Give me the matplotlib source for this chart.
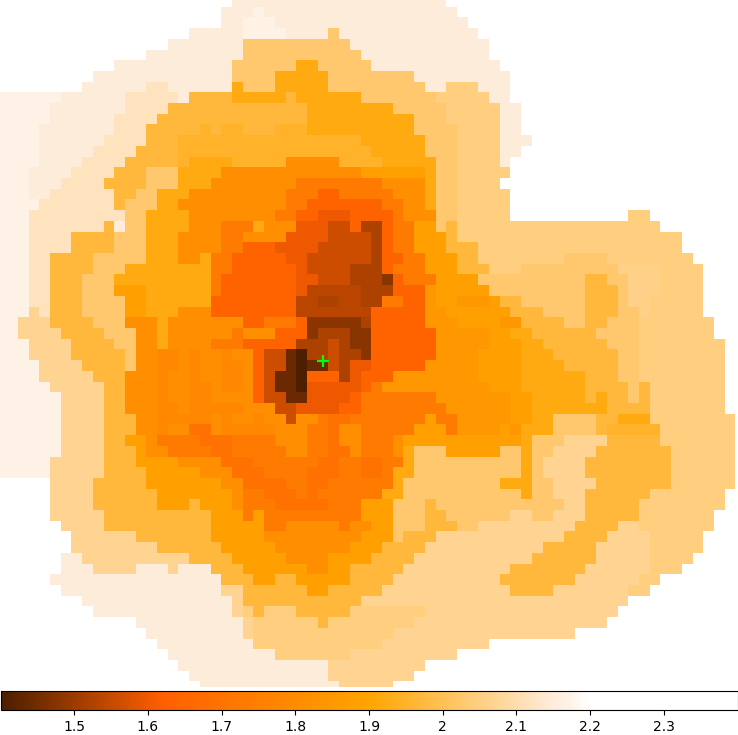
import re
import numpy as np
import matplotlib
matplotlib.use("Agg")
import matplotlib.pyplot as plt
from matplotlib.colors import LinearSegmentedColormap, Normalize

# value of each map level, read through the colour bar
LEVELS = {'w': np.nan, 'a': 2.17, 'b': 2.15, 'c': 2.12, 'd': 2.07, 'E': 2.06, 'D': 2.05, 'e': 2.03, 'f': 1.97,
          'F': 1.95, 'g': 1.92, 'h': 1.88, 'H': 1.85, 'i': 1.81, 'I': 1.785, 'j': 1.73, 'K': 1.695, 'k': 1.64,
          'l': 1.60, 'm': 1.56, 'M': 1.535, 'n': 1.52, 'o': 1.48, 'p': 1.44, 'q': 1.405}

# each row: "<first column><level>" runs
ROWS = [
 "0w 22b 42w",
 "0w 21b 24a 25b 43w",
 "0w 21b 23a 26b 44w",
 "0w 18b 23a 27b 31e 32b 45w",
 "0w 16b 23e 33b 46w",
 "0w 14b 23e 34b 46w",
 "0w 11b 22e 28g 30e 35b 47w",
 "0w 9b 22e 26g 31e 39b 48w",
 "0w 8b 14c 16b 22g 23e 26g 31e 40b 42D 45b 48w",
 "0a 6b 12c 17b 18f 22g 27f 28g 34e 41D 46b 48w",
 "0a 5b 12c 16f 29g 37e 42D 47b 49w",
 "0a 5b 11c 15f 29g 39e 42D 47b 49w",
 "0a 4b 11c 14f 19F 20f 21F 23f 26F 29g 39e 43D 47b 49w",
 "0a 4b 10c 14f 17F 34g 40e 43D 47b 50w",
 "0a 4b 9c 13f 17F 35g 40e 43D 47b 49w",
 "0a 4b 8c 12f 17F 18g 22F 27i 32F 36g 41e 43D 47b 48w",
 "0a 3b 7c 11f 14e 17g 21i 34h 40g 41e 43D 48w",
 "0a 3b 6c 10f 14e 17g 20i 28j 36i 40g 41e 43D 47w",
 "0a 3b 5c 11f 13e 15g 18i 27j 30k 32j 37i 40g 41e 43D 48w",
 "0a 4c 11f 12e 15g 17i 27j 29k 36j 38i 40g 41e 43D 48w",
 "0a 3c 12e 14g 18i 26j 28k 30l 33k 37j 38i 41e 43D 48w 59D 61w",
 "0a 3c 10f 11b 12e 14g 18i 21j 24g 25i 28l 31m 33k 34n 36k 37j 39h 41e 42f 43D 62w",
 "0a 3c 7f 11e 14g 17i 21j 23i 27l 31m 35n 36k 37j 39h 42f 43D 64w",
 "0a 3c 7f 11e 14g 17i 21j 23k 26l 30m 35n 36k 37j 39h 42f 45D 64w",
 "0a 3c 5f 9e 14g 17i 19g 20j 22k 27l 29m 35n 36k 38j 40h 43f 45D 53e 57D 65w",
 "0a 3c 5f 9e 12g 20j 22k 28l 29m 33n 36k 37j 40h 43f 46D 49e 58E 62D 66w",
 "0a 3c 5f 8e 11g 20j 21k 28l 30m 33n 36o 37k 38j 41h 45e 55f 57e 59E 62D 66w",
 "0a 3c 5f 8e 11h 14g 20j 21k 28l 29M 34n 37k 40H 41h 46e 55f 58e 59E 62D 66w",
 "0a 3c 5f 8e 12h 14g 20k 28M 30n 32M 34n 36j 38k 40H 41h 43H 46h 47f 49e 55f 58e 59E 61D 66w",
 "0a 3d 4c 5f 8e 12h 14g 17i 20k 28M 35k 40H 42h 48f 51e 55f 58e 60E 61D 66w",
 "0a 2d 5f 9e 12i 15g 16i 23k 25j 28k 29o 34n 35k 40H 43h 47H 49f 53e 55f 57e 60D 67w",
 "0a 2d 6f 10e 13i 15g 16i 22j 23i 26k 29o 30n 33o 35k 41H 46h 48g 50f 56e 60D 67w",
 "0a 3d 7f 11e 13i 15g 16i 20j 23k 28n 31m 32n 33o 35k 41H 46h 49g 51f 57e 60D 68w",
 "0a 3d 7f 12e 13i 15I 17i 18I 19i 21I 22i 24k 25m 27p 28q 29n 31m 32n 34o 35k 41H 45h 49g 52f 58e 60D 68w",
 "0a 4d 8f 12e 13i 15I 17i 18I 19i 21I 23i 24k 25m 27p 28q 29p 31m 32n 33l 35k 40H 45h 49g 53f 58e 60D 68w",
 "0a 4d 9f 12i 15I 16i 18I 19i 21I 23i 24k 25m 26p 28q 29k 32n 33l 34k 37H 45h 49g 55f 58e 60D 68w",
 "0a 5d 10f 12i 15I 16i 18I 20i 21I 23i 24k 25m 26p 28q 29l 34k 35j 36H 46h 49g 55f 59e 60f 61D 68w",
 "0a 6d 10f 12i 15I 16i 18I 20i 24k 25m 27p 29l 33k 34j 41H 48h 50g 55f 56g 57f 59e 60f 61D 68w",
 "0a 6d 10f 12i 15I 17i 18I 23i 26m 28l 32k 34j 42H 48h 50g 57f 61D 68w",
 "0a 6d 10f 13i 15I 20i 21I 22i 24I 25i 27m 28i 30j 31K 33j 40h 41j 43H 48h 50g 52e 56f 58g 61D 69w",
 "0a 6d 10f 13i 15I 16i 18K 20i 21I 26i 29j 31K 32i 34j 39h 42j 43H 47h 48H 49g 52e 56f 57F 62D 69w",
 "0a 6d 10f 12h 14i 15j 19K 22j 26i 29j 31K 32i 34j 37i 38h 49g 50e 53d 57f 62D 69w",
 "0a 6d 10f 13h 14i 16j 20K 22j 27i 29j 31K 33i 34j 37i 38g 39e 42h 47e 49g 50e 52d 56f 63D 69w",
 "0a 5d 10f 13h 17i 21K 24j 30K 32j 34K 36j 38g 39e 49g 50e 51d 55f 63D 69w",
 "0a 5d 10f 14h 19i 22K 25j 29K 32j 34K 36j 37g 39e 49g 50e 51d 55f 63D 69w",
 "0w 5d 9f 14h 21i 23K 27j 29K 31j 37g 38e 47g 50e 52d 56f 63D 69w",
 "0w 5d 9f 15h 22i 23j 25K 28j 29K 30j 36g 38e 49g 50e 52d 55f 61D 68w",
 "0w 5d 9f 15h 18f 19h 22i 23j 26K 31j 34h 37e 40f 41e 53d 55f 60D 68w",
 "0w 5d 10f 20h 23j 24h 25j 34h 37e 40f 42e 48d 50e 52d 55f 60D 67w",
 "0w 6d 10f 20h 25j 27i 32j 33i 35h 37e 40f 43e 45d 54f 58d 60D 67w",
 "0w 7d 13f 20h 25i 34h 37e 38f 41d 53f 57d 61D 66w",
 "0w 7d 15f 21h 26i 33h 36f 40d 51f 56d 61D 66w",
 "0w 6b 8d 18f 22h 27i 31h 35f 39d 50f 56d 61D 65w",
 "0w 6b 9d 13b 16d 17b 20f 23h 29i 31h 33f 38d 48f 55d 61D 64w",
 "0w 5b 21f 24h 26f 28h 33f 37d 47f 54d 60D 62w",
 "0w 6b 21d 23f 29h 31f 36d 48f 52d 59D 61w",
 "0w 8b 22d 23f 34d 59w",
 "0w 9b 22d 23D 24f 25D 28f 33D 40d 58w",
 "0w 13b 23d 24D 30f 31D 39d 57w",
 "0w 14b 23d 24D 37d 54w",
 "0w 15b 24D 36d 46w",
 "0w 16b 26D 33d 43w",
 "0w 17b 31d 40w",
 "0w 18b 31d 39w",
 "0w 19b 32d 37w",
]
N_COLS = 70
TICKS = [1.5, 1.6, 1.7, 1.8, 1.9, 2.0, 2.1, 2.2, 2.3]
TICK_LABELS = ['1.5', '1.6', '1.7', '1.8', '1.9', '2', '2.1', '2.2', '2.3']
V_MIN, V_MAX = 1.4, 2.4
CENTRE_COL, CENTRE_ROW = 29.96, 33.58

grid = np.full((len(ROWS), N_COLS), np.nan)
for r, row in enumerate(ROWS):
    runs = [(int(a), b) for a, b in re.findall(r'(\d+)([A-Za-z])', row)]
    for (start, lev), nxt in zip(runs, runs[1:] + [(N_COLS, '')]):
        grid[r, start:nxt[0]] = LEVELS[lev]

cmap = LinearSegmentedColormap.from_list(
    'custom',
    [(0.0, '#4a1e00'), (0.22, '#ff5f00'), (0.5, '#ffa500'), (0.67, '#ffd491'),
     (0.75, '#ffecdb'), (0.77, '#fef1e6'), (0.8, '#ffffff'), (1.0, '#ffffff')],
    N=512)
cmap.set_bad('white')

W, H = 738, 735
fig = plt.figure(figsize=(W / 100, H / 100), dpi=100)
ax = fig.add_axes([0, (H - 687) / H, 1, 687 / H])
im = ax.imshow(grid, cmap=cmap, norm=Normalize(V_MIN, V_MAX), aspect='auto', interpolation='nearest')
ax.set_xlim(-0.169, 68.74)
ax.set_ylim(64.02, -0.126)
ax.axis('off')
ax.plot([CENTRE_COL], [CENTRE_ROW], marker='+', color='#00ff00', ms=8, mew=1.6, ls='none')

cax = fig.add_axes([0.5 / W, (H - 710.4) / H, 737 / W, 19.4 / H])
cb = fig.colorbar(im, cax=cax, orientation='horizontal')
cb.set_ticks(TICKS)
cb.set_ticklabels(TICK_LABELS)
cb.ax.tick_params(labelsize=10)
fig.savefig('out.png', dpi=100)
